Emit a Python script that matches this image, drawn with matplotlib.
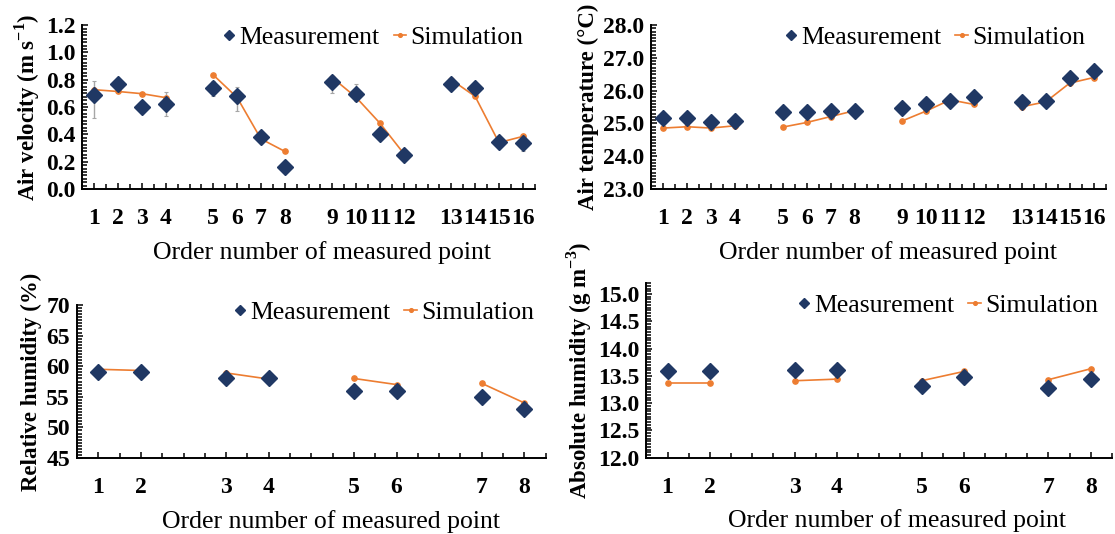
import matplotlib
matplotlib.use("Agg")
import matplotlib.pyplot as plt
from matplotlib.ticker import MultipleLocator, FormatStrFormatter, FixedLocator

plt.rcParams["font.family"] = ["Liberation Serif", "DejaVu Serif"]
plt.rcParams["mathtext.fontset"] = "custom"
plt.rcParams["mathtext.rm"] = "Liberation Serif"
plt.rcParams["mathtext.bf"] = "Liberation Serif:bold"

# air velocity (m/s), 16 points in 4 groups
vel_meas = [0.69, 0.77, 0.60, 0.625, 0.74, 0.68, 0.38, 0.163,
            0.782, 0.698, 0.403, 0.248, 0.768, 0.74, 0.345, 0.34]
vel_err_lo = [0.17, 0.02, 0.03, 0.09, 0.06, 0.11, 0.04, 0.02,
              0.08, 0.05, 0.02, 0.02, 0.02, 0.02, 0.02, 0.06]
vel_err_hi = [0.10, 0.02, 0.03, 0.085, 0.05, 0.07, 0.03, 0.02,
              0.04, 0.07, 0.02, 0.02, 0.03, 0.02, 0.02, 0.03]
vel_sim = [0.727, 0.714, 0.698, 0.669, 0.835, 0.67, 0.367, 0.276,
           0.815, 0.671, 0.482, 0.26, 0.80, 0.678, 0.34, 0.385]

# air temperature (deg C)
temp_meas = [25.16, 25.16, 25.04, 25.08, 25.36, 25.36, 25.39, 25.39,
             25.48, 25.58, 25.68, 25.81, 25.64, 25.68, 26.38, 26.61]
temp_sim = [24.86, 24.90, 24.86, 24.93, 24.89, 25.03, 25.21, 25.39,
            25.08, 25.38, 25.72, 25.58, 25.51, 25.66, 26.23, 26.40]

# relative humidity (%), 8 points in 4 pairs
rh_meas = [59, 59, 58, 58, 56, 56, 55, 53]
rh_sim = [59.5, 59.3, 58.9, 57.9, 58.0, 57.0, 57.2, 54.0]

# absolute humidity (g/m3)
ah_meas = [13.58, 13.58, 13.60, 13.61, 13.31, 13.47, 13.27, 13.45]
ah_sim = [13.37, 13.37, 13.41, 13.44, 13.41, 13.58, 13.43, 13.63]

MEAS_C = "#203864"
SIM_C = "#ED7D31"
ERR_C = "#A6A6A6"
XLABEL = "Order number of measured point"


def positions(n, group):
    # one empty category between groups
    return [i + i // group for i in range(n)]


def draw(ax, meas, sim, group, ylim, major, minor, fmt, ylabel,
         err=None, legend_anchor=(1.0, 1.0), xlabel_x=0.53):
    n = len(meas)
    xs = positions(n, group)
    ncat = xs[-1] + 1

    for g in range(0, n, group):
        ax.plot(xs[g:g + group], sim[g:g + group], color=SIM_C, lw=1.2,
                marker="o", ms=3.8, zorder=2,
                label="Simulation" if g == 0 else None)
    if err is not None:
        ax.errorbar(xs, meas, yerr=err, fmt="none", ecolor=ERR_C,
                    elinewidth=1.0, capsize=1.5, capthick=0.8, zorder=1)
    ax.plot(xs, meas, ls="none", marker="D", ms=8, color=MEAS_C,
            zorder=3, label="Measurement")

    ax.set_xlim(-0.5, ncat - 0.5)
    ax.set_ylim(*ylim)
    ax.xaxis.set_major_locator(FixedLocator(xs))
    ax.set_xticklabels([str(i + 1) for i in range(n)])
    ax.xaxis.set_minor_locator(MultipleLocator(0.5))
    ax.yaxis.set_major_locator(MultipleLocator(major))
    ax.yaxis.set_minor_locator(MultipleLocator(minor))
    ax.yaxis.set_major_formatter(FormatStrFormatter(fmt))

    for s in ("top", "right"):
        ax.spines[s].set_visible(False)
    for s in ("left", "bottom"):
        ax.spines[s].set_linewidth(1.4)
    ax.tick_params(which="both", direction="in", width=1.1, colors="black")
    ax.tick_params(which="major", length=4.5, labelsize=17)
    ax.tick_params(which="minor", length=3.5)
    ax.tick_params(axis="x", which="major", pad=14)
    ax.tick_params(axis="y", which="major", pad=5)
    for lab in ax.get_xticklabels() + ax.get_yticklabels():
        lab.set_fontweight("bold")

    ax.set_xlabel(XLABEL, fontsize=18.5, labelpad=8)
    ax.xaxis.label.set_x(xlabel_x)
    ax.set_ylabel(ylabel, fontsize=16.5, fontweight="bold", labelpad=3)

    h, l = ax.get_legend_handles_labels()
    order = [l.index("Measurement"), l.index("Simulation")]
    ax.legend([h[i] for i in order], [l[i] for i in order], ncol=2,
              loc="upper right", bbox_to_anchor=legend_anchor,
              frameon=False, fontsize=18.5, handlelength=0.5,
              handletextpad=0.15, columnspacing=0.55, borderpad=0,
              borderaxespad=0, markerscale=0.7)


fig = plt.figure(figsize=(11.15, 5.34), dpi=100)

ax1 = fig.add_axes([0.0739, 0.646, 0.4056, 0.307])
draw(ax1, vel_meas, vel_sim, 4, (0, 1.2), 0.2, 0.025, "%.1f",
     r"Air velocity (m s$^{\mathbf{-1}}$)",
     err=[vel_err_lo, vel_err_hi], legend_anchor=(0.975, 0.995),
     xlabel_x=0.53)

ax2 = fig.add_axes([0.5842, 0.646, 0.4073, 0.307])
draw(ax2, temp_meas, temp_sim, 4, (23, 28), 1.0, 0.1, "%.1f",
     "Air temperature (°C)", legend_anchor=(0.955, 0.995),
     xlabel_x=0.522)

ax3 = fig.add_axes([0.0691, 0.1423, 0.4203, 0.2865])
draw(ax3, rh_meas, rh_sim, 2, (45, 70), 5, 0.5, "%d",
     "Relative humidity (%)", legend_anchor=(0.975, 1.025),
     xlabel_x=0.542)

ax4 = fig.add_axes([0.5797, 0.1429, 0.4176, 0.327])
draw(ax4, ah_meas, ah_sim, 2, (12, 15.2), 0.5, 0.05, "%.1f",
     r"Absolute humidity (g m$^{\mathbf{-3}}$)", legend_anchor=(0.97, 0.94),
     xlabel_x=0.539)

fig.savefig("out.png", dpi=100)
